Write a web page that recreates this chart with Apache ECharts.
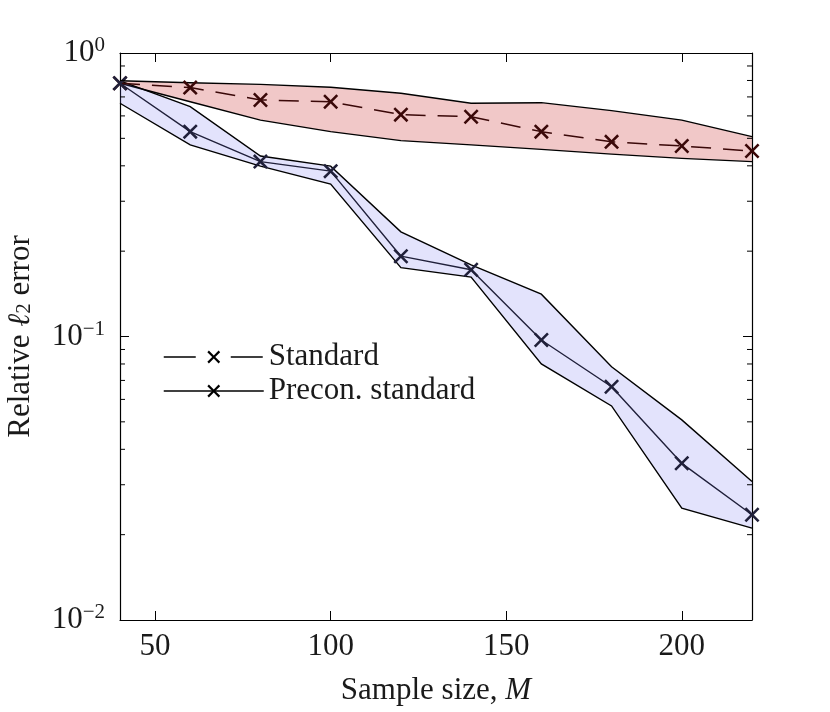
<!DOCTYPE html>
<html>
<head>
<meta charset="utf-8">
<script src="https://cdn.jsdelivr.net/npm/echarts@6/dist/echarts.min.js"></script>
<style>
  html, body { margin: 0; padding: 0; background: #fff; }
  #chart { width: 830px; height: 712px; }
</style>
</head>
<body>
<div id="chart"></div>
<script>
"use strict"

// sample sizes (x) and relative l2 errors
const sampleSizes = [40, 60, 80, 100, 120, 140, 160, 180, 200, 220];

const standardMean = [0.782, 0.755, 0.683, 0.673, 0.606, 0.596, 0.528, 0.486, 0.470, 0.451];
const standardHigh = [0.798, 0.785, 0.775, 0.757, 0.721, 0.665, 0.668, 0.626, 0.580, 0.507];
const standardLow = [0.782, 0.673, 0.580, 0.528, 0.491, 0.474, 0.457, 0.440, 0.425, 0.414];

const preconMean = [0.782, 0.528, 0.414, 0.383, 0.192, 0.172, 0.0972, 0.0665, 0.0357, 0.0235];
const preconHigh = [0.798, 0.647, 0.433, 0.399, 0.234, 0.179, 0.141, 0.0782, 0.0508, 0.0308];
const preconLow = [0.665, 0.474, 0.399, 0.345, 0.175, 0.162, 0.080, 0.0569, 0.0248, 0.0211];

const xTicks = [50, 100, 150, 200];
const yTickLabels = {"0.01": "10{sup|−2}", "0.1": "10{sup|−1}", "1": "10{sup|0}"};

const serif = "'Liberation Serif', 'DejaVu Serif', serif";
const textColor = "#1a1a1a";
const fontSize = 31;
const crossSymbol = "path://M0,1.2 L1.2,0 L5,3.8 L8.8,0 L10,1.2 L6.2,5 L10,8.8 L8.8,10 L5,6.2 L1.2,10 L0,8.8 L3.8,5 Z";

const pairs = (ys) => sampleSizes.map((x, i) => [x, ys[i]]);

// shaded min/max band drawn as one polygon through the axis scales
const bandSeries = (lo, hi, fill) => ({
  type: "custom",
  z: 1,
  silent: true,
  data: sampleSizes.map((x, i) => [x, lo[i], hi[i]]),
  encode: {x: 0, y: [1, 2]},
  renderItem: (params, api) => {
    if (params.dataIndex !== 0) return null;
    const upper = sampleSizes.map((x, i) => api.coord([x, hi[i]]));
    const lower = sampleSizes.map((x, i) => api.coord([x, lo[i]]));
    return {
      type: "group",
      children: [
        {type: "polygon", shape: {points: upper.concat(lower.slice().reverse())}, style: {fill: fill, stroke: null}},
        {type: "polyline", shape: {points: upper}, style: {fill: null, stroke: "#000", lineWidth: 1.4}},
        {type: "polyline", shape: {points: lower}, style: {fill: null, stroke: "#000", lineWidth: 1.4}}
      ]
    };
  }
});

const richBase = {
  n: {fontFamily: serif, fontSize: fontSize, color: textColor},
  i: {fontFamily: serif, fontSize: fontSize, fontStyle: "italic", color: textColor},
  s: {fontFamily: serif, fontSize: 21, color: textColor, padding: [0, 0, -8, 0]}
};

const chartContainer = document.getElementById("chart");
const chart = echarts.init(chartContainer, null, {renderer: "canvas"});

const option = {
  animation: false,
  backgroundColor: "#fff",
  grid: {left: 120, right: 78, top: 53, bottom: 92, containLabel: false, outerBoundsMode: "none"},
  legend: {
    data: [
      {name: "Standard", lineStyle: {type: [32, 35]}},
      {name: "Precon. standard", lineStyle: {type: "solid"}}
    ],
    orient: "vertical",
    left: 158, top: 336,
    itemWidth: 100, itemHeight: 16, itemGap: 2,
    textStyle: {fontFamily: serif, fontSize: fontSize, color: textColor, lineHeight: 32},
    itemStyle: {color: "#000"},
    lineStyle: {color: "#000", width: 1.5}
  },
  xAxis: [
    {
      type: "value", min: 40, max: 220,
      name: "{n|Sample size, }{i|M}",
      nameLocation: "middle", nameGap: 55,
      nameTextStyle: {rich: richBase},
      axisLine: {show: true, lineStyle: {color: "#000", width: 1.2}},
      axisTick: {inside: true, length: 9, customValues: xTicks, lineStyle: {color: "#000"}},
      axisLabel: {customValues: xTicks, margin: 11, fontFamily: serif, fontSize: fontSize, color: textColor},
      splitLine: {show: false}
    },
    {
      type: "value", min: 40, max: 220, position: "top",
      axisLine: {show: true, lineStyle: {color: "#000", width: 1.2}},
      axisTick: {inside: true, length: 9, customValues: xTicks, lineStyle: {color: "#000"}},
      axisLabel: {show: false},
      splitLine: {show: false}
    }
  ],
  yAxis: [
    {
      type: "log", logBase: 10, min: 0.01, max: 1,
      name: "{n|Relative }{i|ℓ}{s|2}{n| error}",
      nameLocation: "middle", nameGap: 84,
      nameTextStyle: {rich: richBase},
      axisLine: {show: true, lineStyle: {color: "#000", width: 1.2}},
      axisTick: {inside: true, length: 9, lineStyle: {color: "#000"}},
      axisLabel: {
        margin: 15,
        formatter: (v) => yTickLabels[String(+v.toPrecision(3))] || "",
        rich: {
          sup: {fontFamily: serif, fontSize: 21, color: textColor, verticalAlign: "top", lineHeight: 36}
        },
        fontFamily: serif, fontSize: fontSize, color: textColor, lineHeight: 36
      },
      splitLine: {show: false}
    },
    {
      type: "log", logBase: 10, min: 0.01, max: 1, position: "right",
      axisLine: {show: true, lineStyle: {color: "#000", width: 1.2}},
      axisTick: {inside: true, length: 9, lineStyle: {color: "#000"}},
      axisLabel: {show: false},
      splitLine: {show: false}
    }
  ],
  series: [
    bandSeries(standardLow, standardHigh, "rgba(204,51,51,0.27)"),
    bandSeries(preconLow, preconHigh, "rgba(100,100,240,0.18)"),
    {
      name: "Standard", type: "line", data: pairs(standardMean), z: 5,
      symbol: crossSymbol, symbolSize: 15,
      itemStyle: {color: "#3a0808"},
      lineStyle: {color: "#3a0808", width: 1.5, type: [20, 12]}
    },
    {
      name: "Precon. standard", type: "line", data: pairs(preconMean), z: 5,
      symbol: crossSymbol, symbolSize: 15,
      itemStyle: {color: "#20203a"},
      lineStyle: {color: "#20203a", width: 1.4}
    }
  ]
};

chart.setOption(option);

// minor log ticks (2..9 per decade) on both y axes
const minorTicks = [];
for (const decade of [0.01, 0.1]) {
  for (let m = 2; m <= 9; m++) minorTicks.push(decade * m);
}
const gridRect = chart.getModel().getComponent("grid").coordinateSystem.getRect();
const tickLines = [];
for (const v of minorTicks) {
  const y = chart.convertToPixel({yAxisIndex: 0}, v);
  const xr = gridRect.x + gridRect.width;
  tickLines.push({type: "line", shape: {x1: gridRect.x, y1: y, x2: gridRect.x + 5, y2: y}, style: {stroke: "#000", lineWidth: 1}, z: 10});
  tickLines.push({type: "line", shape: {x1: xr, y1: y, x2: xr - 5, y2: y}, style: {stroke: "#000", lineWidth: 1}, z: 10});
}
chart.setOption({graphic: tickLines});
</script>
</body>
</html>
